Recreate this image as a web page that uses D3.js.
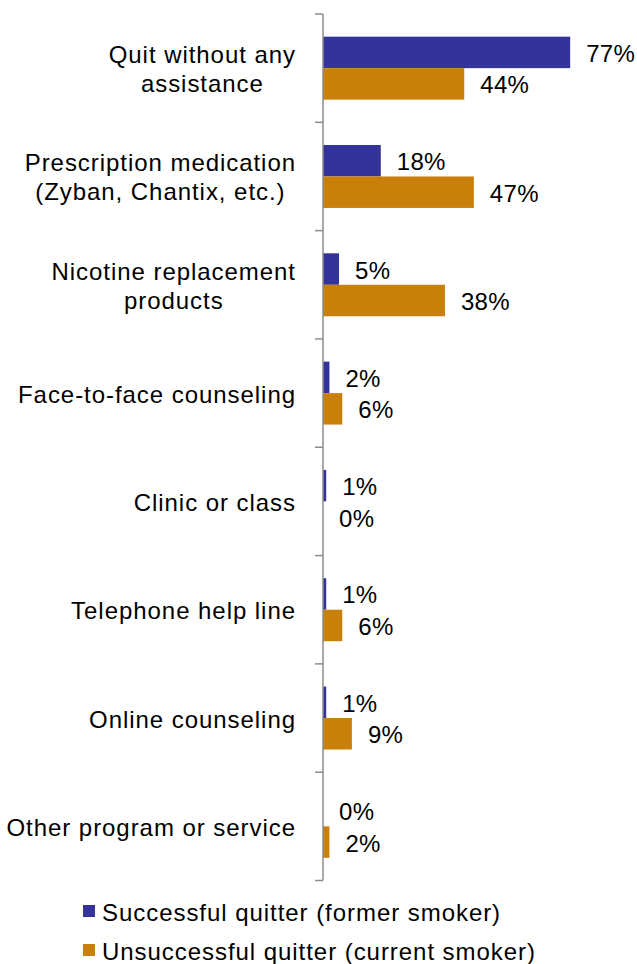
<!DOCTYPE html>
<html>
<head>
<meta charset="utf-8">
<script src="https://cdn.jsdelivr.net/npm/d3@7"></script>
<style>
  html, body { margin: 0; padding: 0; background: #fff; }
  svg { display: block; }
  text { font-family: "Liberation Sans", Arial, sans-serif; fill: #000; letter-spacing: 0.95px; }
  text.value { letter-spacing: 0.3px; }
</style>
</head>
<body>
<svg id="chart" width="637" height="964"></svg>
<script>
// Quit methods, each label split into its display lines
const categories = [
  ["Quit without any", "assistance"],
  ["Prescription medication", "(Zyban, Chantix, etc.)"],
  ["Nicotine replacement", "products"],
  ["Face-to-face counseling"],
  ["Clinic or class"],
  ["Telephone help line"],
  ["Online counseling"],
  ["Other program or service"]
];
const seriesNames = ["Successful quitter (former smoker)", "Unsuccessful quitter (current smoker)"];
const successful = [77, 18, 5, 2, 1, 1, 1, 0];
const unsuccessful = [44, 47, 38, 6, 0, 6, 9, 2];
const colors = ["#333399", "#C8800A"];

const svg = d3.select("#chart");
const axisX = 323;
const plotTop = 14, plotBottom = 880.5;

const keys = categories.map(c => c.join(" "));
const y = d3.scaleBand().domain(keys).range([plotTop, plotBottom]).padding(0);
const inner = d3.scaleBand().domain([0, 1]).range([0, y.bandwidth()]).paddingInner(0).paddingOuter(0.72);
const x = d3.scaleLinear().domain([0, 100]).range([axisX, axisX + 321]);

const values = [successful, unsuccessful];

// bars
values.forEach((vals, s) => {
  svg.append("g").selectAll("rect")
    .data(vals)
    .join("rect")
    .attr("x", x(0))
    .attr("y", (d, i) => y(keys[i]) + inner(s))
    .attr("width", d => x(d) - x(0))
    .attr("height", inner.bandwidth())
    .attr("fill", colors[s]);
});

// value labels
values.forEach((vals, s) => {
  svg.append("g").selectAll("text")
    .data(vals)
    .join("text")
    .attr("class", "value")
    .attr("x", d => x(d) + 16)
    .attr("y", (d, i) => y(keys[i]) + inner(s) + inner.bandwidth() / 2 + 9.5)
    .attr("font-size", 24)
    .text(d => d + "%");
});

// category axis: vertical line with ticks at band boundaries
const axisG = svg.append("g").attr("stroke", "#8c8c8c").attr("stroke-width", 1.5);
axisG.append("line").attr("x1", axisX).attr("x2", axisX).attr("y1", plotTop).attr("y2", plotBottom);
const boundaries = keys.map(k => y(k)).concat([plotBottom]);
axisG.selectAll("line.tick").data(boundaries).join("line")
  .attr("class", "tick")
  .attr("x1", axisX - 8).attr("x2", axisX)
  .attr("y1", d => d).attr("y2", d => d);

// category labels, right-aligned block with centred lines
const labelRight = 296;
const lineGap = 29;
categories.forEach((lines, i) => {
  const cy = y(keys[i]) + y.bandwidth() / 2;
  const g = svg.append("g");
  const texts = lines.map((ln, j) => g.append("text")
    .attr("font-size", 24)
    .attr("text-anchor", "middle")
    .attr("y", cy + 9.5 + (j - (lines.length - 1) / 2) * lineGap)
    .text(ln));
  const w = d3.max(texts, t => t.node().getComputedTextLength());
  texts.forEach(t => t.attr("x", labelRight - w / 2));
});

// legend
const legend = svg.append("g");
seriesNames.forEach((name, s) => {
  const ly = 911 + s * 39;
  legend.append("rect").attr("x", 83).attr("y", ly - 6).attr("width", 12).attr("height", 12).attr("fill", colors[s]);
  legend.append("text").attr("x", 102).attr("y", ly + 9.5).attr("font-size", 24).text(name);
});
</script>
</body>
</html>
